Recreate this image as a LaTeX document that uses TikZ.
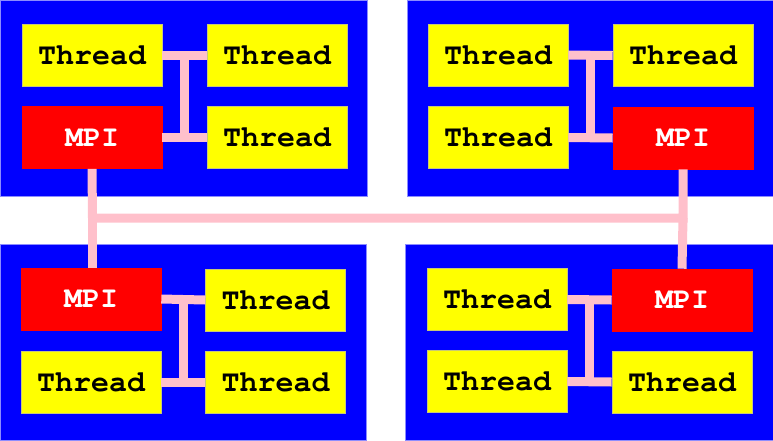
\documentclass[tikz,border=0pt]{standalone}
\usepackage{fontspec}
\newfontfamily\cour{TeX Gyre Cursor}
\usetikzlibrary{calc}
\definecolor{pinkline}{RGB}{255,192,203}
\tikzset{
  blk/.style={fill={rgb,255:red,0;green,0;blue,255}, draw={rgb,255:red,140;green,140;blue,255}, line width=0.6pt, inner sep=0pt, anchor=north west},
  thr/.style={fill={rgb,255:red,255;green,255;blue,0}, draw={rgb,255:red,200;green,200;blue,120}, line width=0.6pt, minimum width=140pt, minimum height=62pt, inner sep=0pt, text=black, font=\cour\bfseries\fontsize{30}{30}\selectfont},
  mpi/.style={thr, fill={rgb,255:red,255;green,0;blue,0}, draw={rgb,255:red,255;green,0;blue,0}, text=white},
  link/.style={draw=pinkline, line width=9pt, line cap=butt, line join=miter}
}
\begin{document}
\begin{tikzpicture}[x=1pt,y=-1pt]
\useasboundingbox (0,0) rectangle (773,440);
% blue blocks
\node[blk, minimum width=367pt, minimum height=196pt] (A) at (0,0) {};
\node[blk, minimum width=366pt, minimum height=196pt] (B) at (407,0) {};
\node[blk, minimum width=366pt, minimum height=196pt] (C) at (0,244) {};
\node[blk, minimum width=368pt, minimum height=196pt] (D) at (405,244) {};
% block A
\node[thr] (A1) at (92,55) {Thread};
\node[thr] (A2) at (277,55) {Thread};
\node[mpi] (A3) at (92,137.5) {MPI};
\node[thr] (A4) at (277,137.5) {Thread};
% block B
\node[thr] (B1) at (498,55) {Thread};
\node[thr] (B2) at (683,55.5) {Thread};
\node[thr] (B3) at (498,137.5) {Thread};
\node[mpi] (B4) at (683,138) {MPI};
% block C
\node[mpi] (C1) at (91,299) {MPI};
\node[thr] (C2) at (275.5,300) {Thread};
\node[thr] (C3) at (91,382) {Thread};
\node[thr] (C4) at (275.5,382) {Thread};
% block D
\node[thr] (D1) at (497,299.5) {Thread};
\node[mpi] (D2) at (682,300) {MPI};
\node[thr] (D3) at (497,381.5) {Thread};
\node[thr] (D4) at (682,382) {Thread};
% local links
\foreach \b in {A,B,C,D}{
  \draw[link] (\b1.east) -- (\b2.west);
  \draw[link] (\b3.east) -- (\b4.west);
  \draw[link] ($(\b1.east)!0.5!(\b2.west)$) -- ($(\b3.east)!0.5!(\b4.west)$);
}
% global links
\coordinate (J1) at (92.5,218);
\coordinate (J2) at (683,218);
\draw[link] (A3.south) -- (J1) -- (J2) -- (B4.south);
\draw[link] (C1.north -| J1) -- (J1);
\draw[link] (D2.north) -- (J2);
\end{tikzpicture}
\end{document}
